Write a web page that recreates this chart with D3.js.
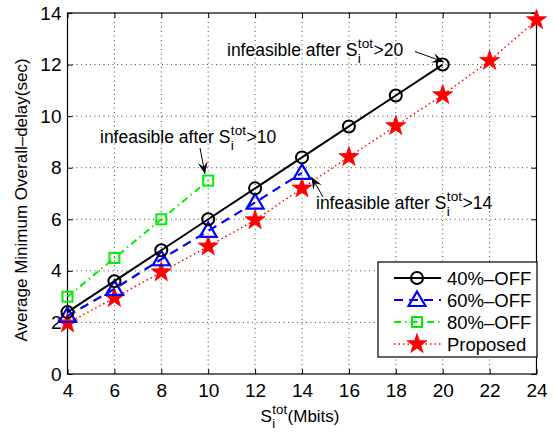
<!DOCTYPE html>
<html><head><meta charset="utf-8">
<script src="https://cdn.jsdelivr.net/npm/d3@7"></script>
<style>body{margin:0;background:#fff}text{font-family:"Liberation Sans",Arial,Helvetica,sans-serif}</style>
</head><body>
<svg id="c" width="554" height="435"></svg>
<script>
const xTicks = [4,6,8,10,12,14,16,18,20,22,24];
const yTicks = [0,2,4,6,8,10,12,14];
const x40 = [4,6,8,10,12,14,16,18,20];
const y40 = [2.4,3.6,4.8,6.0,7.2,8.4,9.6,10.8,12.0];
const x60 = [4,6,8,10,12,14];
const y60 = [2.25,3.3,4.45,5.55,6.65,7.8];
const x80 = [4,6,8,10];
const y80 = [3.0,4.5,6.0,7.5];
const xProp = [4,6,8,10,12,14,16,18,20,22,24];
const yProp = [1.97,2.95,3.95,4.95,5.97,7.2,8.42,9.62,10.82,12.15,13.73];
const seriesNames = ["40%–OFF","60%–OFF","80%–OFF","Proposed"];

const svg = d3.select("#c");
const L=67.5,R=536.5,T=13,B=374;
const x = d3.scaleLinear().domain([4,24]).range([L,R]);
const y = d3.scaleLinear().domain([0,14]).range([B,T]);

// grid
const g = svg.append("g");
xTicks.forEach(t=>{ if(t>4&&t<24) g.append("line").attr("x1",x(t)).attr("x2",x(t)).attr("y1",T).attr("y2",B).attr("stroke","#444").attr("stroke-width",1).attr("stroke-dasharray","1,3.5");});
yTicks.forEach(t=>{ if(t>0&&t<14) g.append("line").attr("x1",L).attr("x2",R).attr("y1",y(t)).attr("y2",y(t)).attr("stroke","#444").attr("stroke-width",1).attr("stroke-dasharray","1,3.5");});

// axes
const xAx = svg.append("g").attr("transform",`translate(0,${B})`).call(d3.axisBottom(x).tickValues(xTicks).tickSizeInner(-5).tickSizeOuter(0).tickPadding(10));
const xAxT = svg.append("g").attr("transform",`translate(0,${T})`).call(d3.axisTop(x).tickValues(xTicks).tickSizeInner(-5).tickSizeOuter(0).tickFormat(""));
const yAx = svg.append("g").attr("transform",`translate(${L},0)`).call(d3.axisLeft(y).tickValues(yTicks).tickSizeInner(-5).tickSizeOuter(0).tickPadding(6));
const yAxR = svg.append("g").attr("transform",`translate(${R},0)`).call(d3.axisRight(y).tickValues(yTicks).tickSizeInner(-5).tickSizeOuter(0).tickFormat(""));
[xAx,xAxT,yAx,yAxR].forEach(a=>{a.select(".domain").remove(); a.selectAll("line").attr("stroke","#000");});
xAx.selectAll("text").attr("font-size",19).attr("fill","#000").attr("font-family","Liberation Sans,Arial");
yAx.selectAll("text").attr("font-size",19).attr("fill","#000").attr("font-family","Liberation Sans,Arial");
svg.append("rect").attr("x",L).attr("y",T).attr("width",R-L).attr("height",B-T).attr("fill","none").attr("stroke","#000").attr("stroke-width",1.2);

// markers
function star(ro,ri){let p=[];for(let i=0;i<10;i++){const r=i%2?ri:ro;const a=-Math.PI/2+i*Math.PI/5;p.push([r*Math.cos(a),r*Math.sin(a)]);}return "M"+p.map(q=>q.join(",")).join("L")+"Z";}
function drawMarker(sel,type,cx,cy){
  if(type==="circle") sel.append("circle").attr("cx",cx).attr("cy",cy).attr("r",6).attr("fill","none").attr("stroke","#000").attr("stroke-width",2);
  if(type==="tri") sel.append("path").attr("d",`M${cx},${cy-8.5}L${cx+8.5},${cy+6}L${cx-8.5},${cy+6}Z`).attr("fill","none").attr("stroke","#0000ff").attr("stroke-width",2.2);
  if(type==="sq") sel.append("rect").attr("x",cx-5).attr("y",cy-5).attr("width",10).attr("height",10).attr("fill","none").attr("stroke","#00ee00").attr("stroke-width",2);
  if(type==="star") sel.append("path").attr("d",star(10.5,4.1)).attr("transform",`translate(${cx},${cy})`).attr("fill","#ff0000").attr("stroke","#ff0000").attr("stroke-width",0.8);
}
const series = [
  {xs:x40,ys:y40,color:"#000",dash:null,w:2,m:"circle"},
  {xs:x60,ys:y60,color:"#0000ff",dash:"9,6",w:2.2,m:"tri"},
  {xs:x80,ys:y80,color:"#00ee00",dash:"7,4,1.5,4",w:2,m:"sq"},
  {xs:xProp,ys:yProp,color:"#ff0000",dash:"1.5,3",w:1.5,m:"star"}
];
const line = d3.line().x(d=>x(d[0])).y(d=>y(d[1]));
[3,2,1,0].forEach(i=>{
  const s=series[i]; const pts=s.xs.map((v,j)=>[v,s.ys[j]]);
  svg.append("path").attr("d",line(pts)).attr("fill","none").attr("stroke",s.color).attr("stroke-width",s.w).attr("stroke-dasharray",s.dash);
  const mg=svg.append("g"); pts.forEach(p=>drawMarker(mg,s.m,x(p[0]),y(p[1])));
});

// legend
const lg = svg.append("g");
lg.append("rect").attr("x",378).attr("y",262).attr("width",159).attr("height",95).attr("fill","#fff").attr("stroke","#000").attr("stroke-width",1.2);
const rowsY=[278,300,322,344];
series.forEach((s,i)=>{
  lg.append("line").attr("x1",394).attr("x2",441).attr("y1",rowsY[i]).attr("y2",rowsY[i]).attr("stroke",s.color).attr("stroke-width",s.w).attr("stroke-dasharray",s.dash);
  drawMarker(lg,s.m,417,rowsY[i]);
  lg.append("text").attr("x",447).attr("y",rowsY[i]+6.5).attr("font-size",18.5).text(seriesNames[i]);
});

function sText(x0,y0,pre,post,fs,anchorMid){
  const gg=svg.append("g");
  const t1=gg.append("text").attr("x",0).attr("y",0).attr("font-size",fs).text(pre);
  const w1=t1.node().getComputedTextLength();
  const sup=gg.append("text").attr("x",w1+0.5).attr("y",-fs*0.45).attr("font-size",fs*0.78).text("tot");
  const ws=sup.node().getComputedTextLength();
  gg.append("text").attr("x",w1+0.5).attr("y",fs*0.38).attr("font-size",fs*0.78).text("i");
  const t3=gg.append("text").attr("x",w1+ws+1).attr("y",0).attr("font-size",fs).text(post);
  const tw=w1+ws+1+t3.node().getComputedTextLength();
  gg.attr("transform",`translate(${anchorMid?x0-tw/2:x0},${y0})`);
  return gg;
}
sText(100,143,"infeasible after S",">10",17.5);
sText(227,56,"infeasible after S",">20",17.5);
sText(316,209,"infeasible after S",">14",17.5);

function arrow(x1,y1,x2,y2){
  svg.append("line").attr("x1",x1).attr("y1",y1).attr("x2",x2).attr("y2",y2).attr("stroke","#000").attr("stroke-width",1);
  const a=Math.atan2(y2-y1,x2-x1), l=12, wd=5;
  const bx=x2-l*Math.cos(a), by=y2-l*Math.sin(a);
  const mx=x2-0.6*l*Math.cos(a), my=y2-0.6*l*Math.sin(a);
  const px=-Math.sin(a), py=Math.cos(a);
  svg.append("path").attr("d",`M${x2},${y2}L${bx+px*wd},${by+py*wd}L${mx},${my}L${bx-px*wd},${by-py*wd}Z`).attr("fill","#000");
}
arrow(200,148,205,174);
arrow(415,51.5,444,62);
arrow(323,197,311.5,177);

sText(300,422,"S","(Mbits)",17,true);
svg.append("text").attr("transform","translate(27,200) rotate(-90)").attr("text-anchor","middle").attr("font-size",17).text("Average Minimum Overall–delay(sec)");
</script>
</body></html>
